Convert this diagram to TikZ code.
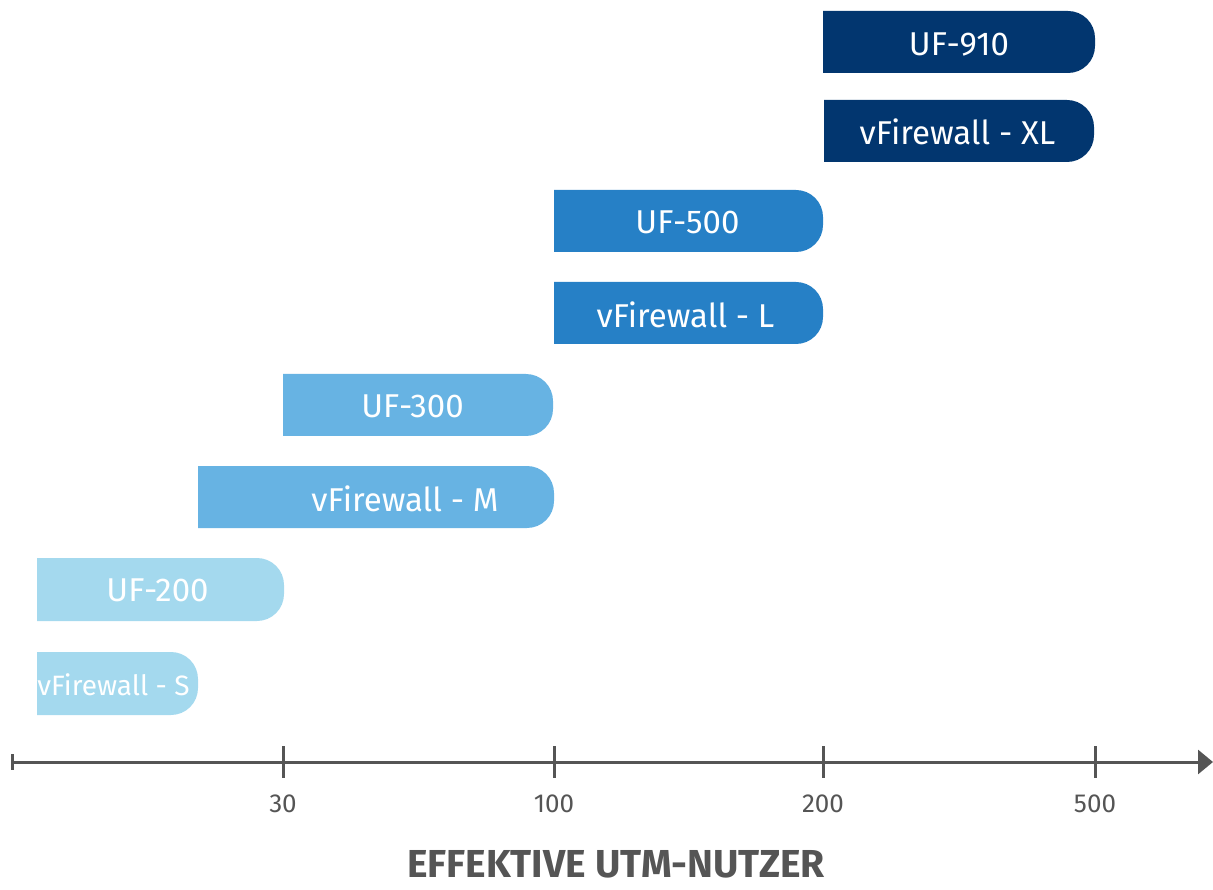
\documentclass[tikz,border=0pt]{standalone}
\usepackage{fontspec}
\setmainfont{Fira Sans}
\usetikzlibrary{arrows.meta}
\definecolor{cnavy}{HTML}{02366F}
\definecolor{cmid}{HTML}{2680C6}
\definecolor{clight}{HTML}{67B3E3}
\definecolor{cpale}{HTML}{A4D9EE}
\definecolor{cgray}{HTML}{555555}
\tikzset{
  lbl/.style={text=white, font=\fontsize{33}{33}\selectfont, inner sep=0pt, anchor=center},
  lbls/.style={lbl, font=\fontsize{28}{28}\selectfont},
  ticklbl/.style={text=cgray, font=\fontsize{26}{26}\selectfont, inner sep=0pt},
  axisline/.style={draw=cgray, line width=3pt},
}
\newcommand{\barshape}[5]{% color, x0, y0, x1, y1
  \fill[#1] (#2,#3) [rounded corners=27pt] -- (#4,#3) -- (#4,#5) [sharp corners] -- (#2,#5) -- cycle;}
\begin{document}
\begin{tikzpicture}[x=1pt,y=-1pt]
\useasboundingbox (0,0) rectangle (1213,890);
% bars
\barshape{cnavy}{823}{11}{1095}{73}
\barshape{cnavy}{824}{100}{1094}{162}
\barshape{cmid}{554}{190}{823}{252}
\barshape{cmid}{554}{282}{823}{344}
\barshape{clight}{283}{374}{553}{436}
\barshape{clight}{198}{466}{554}{528}
\barshape{cpale}{37}{558}{284}{621}
\barshape{cpale}{37}{652}{198}{715}
% labels
\node[lbl] (uf910) at (959,44) {UF-910};
\node[lbl] (vfxl) at (957.5,132) {vFirewall - XL};
\node[lbl] (uf500) at (687.5,222) {UF-500};
\node[lbl] (vfl) at (685.5,315) {vFirewall - L};
\node[lbl] (uf300) at (412.5,406) {UF-300};
\node[lbl] (vfm) at (405,499) {vFirewall - M};
\node[lbl] (uf200) at (157.5,590) {UF-200};
\node[lbls] (vfs) at (113.5,685) {vFirewall - S};
% axis
\coordinate (a0) at (12,762);
\coordinate (a1) at (1213,762);
\draw[axisline, -{Triangle[length=15pt,width=24pt]}] (a0) -- (a1);
\draw[axisline] (12,754) -- (12,770);
\foreach \x/\t in {283/30,554/100,823/200,1095/500}{
  \draw[axisline] (\x,746) -- (\x,778);
  \node[ticklbl] (t\t) at (\x,804) {\t};
}
\node[text=cgray, font=\fontsize{39}{39}\selectfont\bfseries, inner sep=0pt] (title) at (616,864) {EFFEKTIVE UTM-NUTZER};
\end{tikzpicture}
\end{document}
